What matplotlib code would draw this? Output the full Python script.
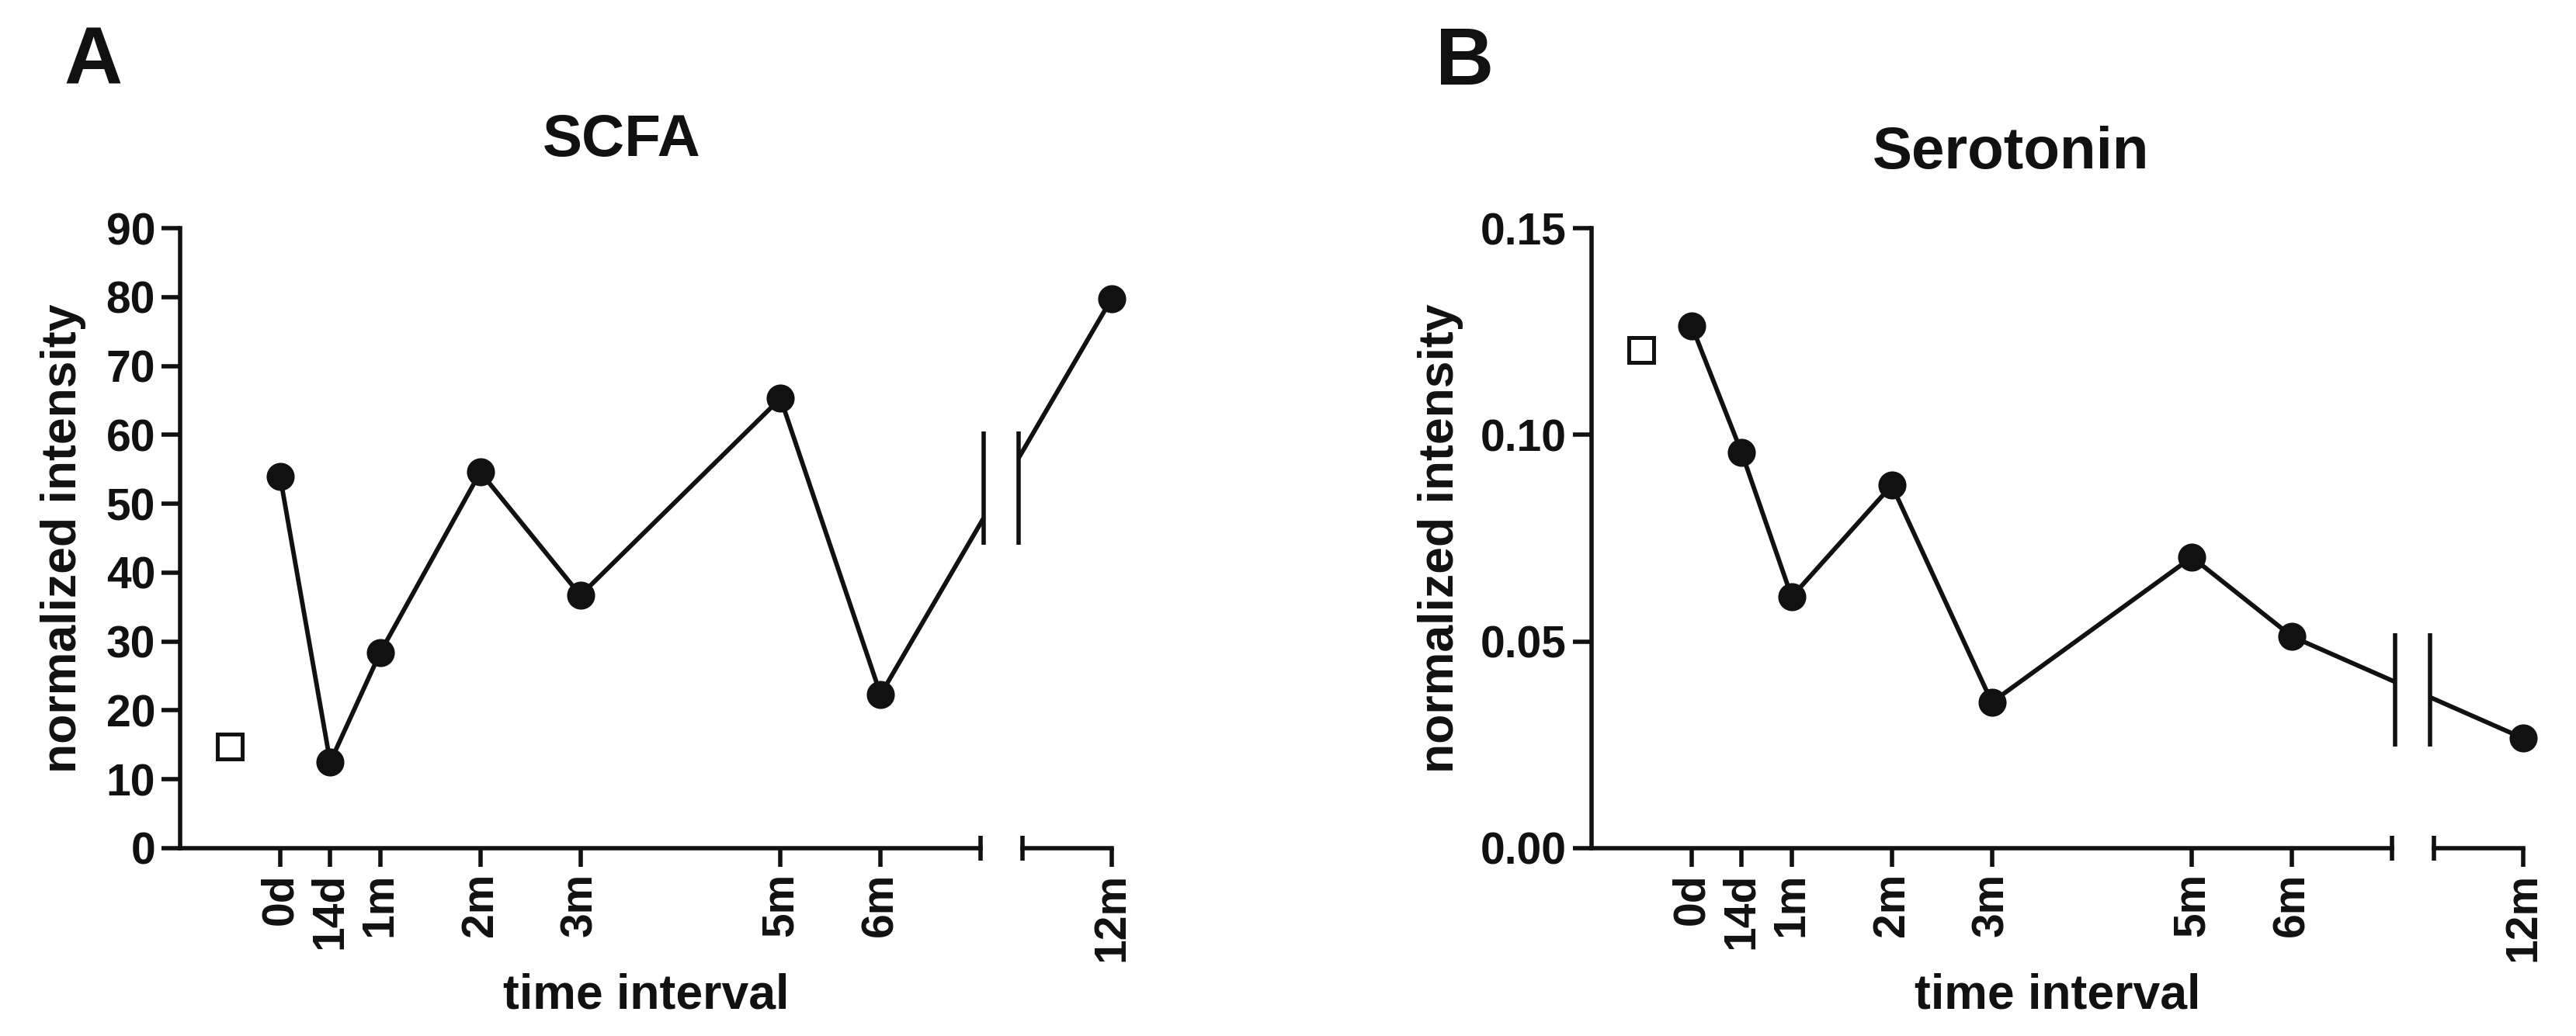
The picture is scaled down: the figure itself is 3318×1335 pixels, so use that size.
import numpy as np
import matplotlib
matplotlib.use('Agg')
import matplotlib.pyplot as plt

plt.rcParams['font.family'] = ['Liberation Sans', 'DejaVu Sans']
plt.rcParams['font.weight'] = 'bold'
plt.rcParams['axes.labelweight'] = 'bold'

# ---------------- data ----------------
months = [0, 0.5, 1, 2, 3, 5, 6, 12]
tick_labels = ['0d', '14d', '1m', '2m', '3m', '5m', '6m', '12m']
scfa = [53.9, 12.5, 28.4, 54.6, 36.7, 65.3, 22.3, 79.8]
serotonin = [0.1264, 0.0957, 0.0608, 0.0878, 0.0353, 0.0704, 0.0512, 0.0266]
baseline_month = -0.5
scfa_baseline = 14.7
serotonin_baseline = 0.1205

scfa_yticks = [0, 10, 20, 30, 40, 50, 60, 70, 80, 90]
sero_yticks = [0.00, 0.05, 0.10, 0.15]

# ---------------- broken x scale ----------------
BREAK_START, BREAK_END = 7.0, 11.11
GAP = 0.42


def fwd(t):
    t = np.asarray(t, dtype=float)
    mid = BREAK_START + (t - BREAK_START) * GAP / (BREAK_END - BREAK_START)
    right = t - BREAK_END + BREAK_START + GAP
    return np.where(t <= BREAK_START, t, np.where(t >= BREAK_END, right, mid))


def inv(p):
    p = np.asarray(p, dtype=float)
    mid = BREAK_START + (p - BREAK_START) * (BREAK_END - BREAK_START) / GAP
    right = p + BREAK_END - BREAK_START - GAP
    return np.where(p <= BREAK_START, p,
                    np.where(p >= BREAK_START + GAP, right, mid))


W, H = 3318, 1335
fig = plt.figure(figsize=(W / 200, H / 200), dpi=200)
LW = 2.1
ALW = 2.0


def panel(rect, values, base, ylim, yticks, yfmt, ylabel_x):
    ax = fig.add_axes(rect)
    ax.set_xscale('function', functions=(fwd, inv))
    ax.set_xlim(-1, 12)
    ax.set_ylim(*ylim)

    ax.plot(months, values, '-o', color='#111111', lw=LW, ms=12,
            clip_on=False, zorder=3)
    ax.plot([baseline_month], [base], 's', ms=11.5, mfc='white',
            mec='#111111', mew=1.8, zorder=3, clip_on=False)

    # break marks on the data line
    p = fwd(months)
    m1, m2 = 7.03, 7.38
    yc = np.interp((m1 + m2) / 2, p, values)
    half = 0.0915 * (ylim[1] - ylim[0])
    x1, x2 = float(inv(m1)), float(inv(m2))
    ax.fill_between([x1, x2], yc - half, yc + half, color='white', lw=0,
                    zorder=4)
    for xm in (x1, x2):
        ax.plot([xm, xm], [yc - half, yc + half], color='#111111', lw=ALW,
                zorder=5, solid_capstyle='butt')

    # spines / broken x axis
    for s in ('top', 'right', 'bottom'):
        ax.spines[s].set_visible(False)
    ax.spines['left'].set_linewidth(ALW)
    ax.spines['left'].set_color('#111111')
    xt = ax.get_xaxis_transform()
    ax.plot([-1, BREAK_START], [0, 0], transform=xt, color='#111111',
            lw=ALW, clip_on=False, solid_capstyle='projecting')
    ax.plot([BREAK_END, 12], [0, 0], transform=xt, color='#111111', lw=ALW,
            clip_on=False, solid_capstyle='projecting')
    for xe in (BREAK_START, BREAK_END):
        ax.plot([xe, xe], [-0.02, 0.02], transform=xt, color='#111111',
                lw=ALW, clip_on=False, solid_capstyle='butt')

    ax.set_xticks(months)
    ax.set_xticklabels(tick_labels, rotation=90)
    ax.set_yticks(yticks)
    ax.set_yticklabels([yfmt.format(v) for v in yticks])
    ax.tick_params(axis='both', direction='out', length=8.5, width=ALW,
                   labelsize=20.5, pad=3, color='#111111',
                   labelcolor='#111111')
    ax.minorticks_off()

    ax.set_ylabel('normalized intensity', fontsize=22.5, va='center',
                  color='#111111')
    ax.yaxis.set_label_coords(ylabel_x, 0.5)
    ax.set_xlabel('time interval', fontsize=22.5, va='baseline',
                  color='#111111')
    ax.xaxis.set_label_coords(0.5, -0.259)
    return ax


ax_h = 799 / H
ax_b = (H - 1093) / H
axA = panel([232 / W, ax_b, 1200 / W, ax_h], scfa, scfa_baseline, (0, 90),
            scfa_yticks, '{:.0f}', -0.125)
axB = panel([2050 / W, ax_b, 1200 / W, ax_h], serotonin, serotonin_baseline,
            (0, 0.15), sero_yticks, '{:.2f}', -0.162)

fig.text(801 / W, 1 - 182 / H, 'SCFA', fontsize=27.5, ha='center',
         va='center', color='#111111')
fig.text(2590 / W, 1 - 198 / H, 'Serotonin', fontsize=27.5, ha='center',
         va='center', color='#111111')
fig.text(82 / W, 1 - 108 / H, 'A', fontsize=37.5, ha='left', va='baseline',
         color='#111111')
fig.text(1849 / W, 1 - 109 / H, 'B', fontsize=37.5, ha='left',
         va='baseline', color='#111111')

fig.savefig('out.png', dpi=200, facecolor='white')
